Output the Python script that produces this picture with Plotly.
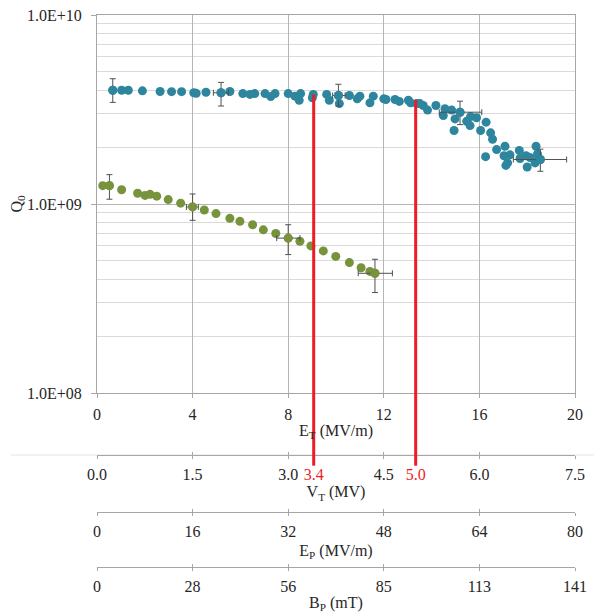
import plotly.graph_objects as go

# ---------------- data ----------------
et_ticks = [0, 4, 8, 12, 16, 20]
et_labels = ["0", "4", "8", "12", "16", "20"]
vt_labels = ["0.0", "1.5", "3.0", "4.5", "6.0", "7.5"]
ep_labels = ["0", "16", "32", "48", "64", "80"]
bp_labels = ["0", "28", "56", "85", "113", "141"]
et_max = 20.0
vt_max = 7.5

y_tick_vals = [1e8, 1e9, 1e10]
y_tick_text = ["1.0E+08", "1.0E+09", "1.0E+10"]

blue_et = [0.66, 1.03, 1.31, 1.90, 2.64, 3.12, 3.54, 4.05, 4.15, 4.56,
           5.19, 5.56, 6.10, 6.40, 6.60, 7.03, 7.27, 7.45, 8.00, 8.28,
           8.46, 8.52, 9.01, 9.05, 9.61, 9.72, 10.10, 10.14, 10.56, 10.89,
           11.00, 11.42, 11.56, 12.00, 12.09, 12.47, 12.65, 13.03, 13.12, 13.37,
           13.51, 13.65, 13.83, 14.18, 14.49, 14.56, 14.84, 14.98, 14.94, 15.19,
           15.47, 15.61, 15.63, 15.88, 16.05, 16.28, 16.47, 16.55, 16.26, 16.72,
           17.07, 17.03, 17.28, 17.11, 17.18, 17.67, 17.70, 17.95, 18.00, 18.12,
           18.37, 18.43, 18.33, 18.47, 18.55]
blue_q = [4.00, 4.00, 4.00, 3.97, 3.94, 3.93, 3.93, 3.88, 3.85, 3.90,
          3.88, 3.94, 3.84, 3.80, 3.84, 3.84, 3.70, 3.84, 3.84, 3.72,
          3.54, 3.84, 3.65, 3.80, 3.80, 3.54, 3.75, 3.40, 3.75, 3.60,
          3.72, 3.43, 3.72, 3.60, 3.57, 3.57, 3.49, 3.54, 3.43, 3.40,
          3.40, 3.32, 3.14, 3.32, 2.94, 3.19, 3.14, 2.82, 2.45, 3.06,
          2.74, 2.60, 2.90, 2.86, 2.45, 2.71, 2.38, 2.20, 1.78, 1.94,
          2.02, 1.80, 1.82, 1.60, 1.65, 1.92, 1.74, 1.80, 1.57, 1.76,
          2.02, 1.84, 1.65, 1.72, 1.72]  # x 1e9

green_et = [0.24, 0.52, 1.03, 1.70, 2.01, 2.22, 2.50, 2.98, 3.50, 4.00,
            4.49, 4.98, 5.56, 5.98, 6.51, 6.96, 7.48, 8.00, 8.49, 8.95,
            9.47, 9.99, 10.56, 11.05, 11.42, 11.63]
green_q = [1.25, 1.25, 1.19, 1.14, 1.11, 1.125, 1.10, 1.055, 1.01, 0.965,
           0.93, 0.89, 0.84, 0.81, 0.777, 0.73, 0.698, 0.66, 0.635, 0.60,
           0.565, 0.528, 0.49, 0.46, 0.44, 0.43]  # x 1e9

blue_err_et = [0.66, 5.19, 10.10, 15.19, 18.55]
blue_err_q = [4.00, 3.88, 3.75, 3.06, 1.72]
blue_err_qhi = [4.60, 4.40, 4.30, 3.50, 1.95]
blue_err_qlo = [3.45, 3.30, 3.30, 2.63, 1.49]
blue_err_etlo = [0.66, 4.87, 9.86, 14.32, 17.42]
blue_err_ethi = [0.66, 5.50, 10.38, 16.10, 19.65]

green_err_et = [0.52, 4.00, 8.00, 11.63]
green_err_q = [1.25, 0.965, 0.66, 0.43]
green_err_qhi = [1.43, 1.13, 0.777, 0.51]
green_err_qlo = [1.06, 0.82, 0.54, 0.34]
green_err_etlo = [0.52, 3.74, 7.52, 10.93]
green_err_ethi = [0.52, 4.24, 8.49, 12.36]

red_vt = [3.4, 5.0]
red_vt_labels = ["3.4", "5.0"]
red_q_top = [3.80, 3.55]  # x 1e9

# ---------------- styles ----------------
BLUE = "#2E869E"
GREEN = "#77933C"
RED = "#EE1C25"
ERR = "#505050"
FONT = '"Liberation Serif", "Times New Roman", "DejaVu Serif", serif'
TXT = "#262626"
AXC = "#A6A6A6"
GRID = "#B5B5B5"

G = 1e9
dom_bottom = 0.3636
pos_vt, pos_ep, pos_bp = 0.2593, 0.1633, 0.0707

fig = go.Figure()


def err_trace(xs, qs, qhi, qlo, xlo, xhi, color):
    return go.Scatter(
        x=xs, y=[q * G for q in qs], mode="markers",
        marker=dict(color=color, size=9),
        error_y=dict(type="data", symmetric=False,
                     array=[(h - q) * G for h, q in zip(qhi, qs)],
                     arrayminus=[(q - l) * G for l, q in zip(qlo, qs)],
                     color=ERR, thickness=1, width=3),
        error_x=dict(type="data", symmetric=False,
                     array=[h - x for h, x in zip(xhi, xs)],
                     arrayminus=[x - l for l, x in zip(xlo, xs)],
                     color=ERR, thickness=1, width=3),
        showlegend=False, hoverinfo="skip")


fig.add_trace(go.Scatter(x=blue_et, y=[q * G for q in blue_q], mode="markers",
                         marker=dict(color=BLUE, size=9), showlegend=False))
fig.add_trace(go.Scatter(x=green_et, y=[q * G for q in green_q], mode="markers",
                         marker=dict(color=GREEN, size=9), showlegend=False))
fig.add_trace(err_trace(blue_err_et, blue_err_q, blue_err_qhi, blue_err_qlo,
                        blue_err_etlo, blue_err_ethi, BLUE))
fig.add_trace(err_trace(green_err_et, green_err_q, green_err_qhi, green_err_qlo,
                        green_err_etlo, green_err_ethi, GREEN))

# red vertical markers (upper part inside the plot)
red_et = [v * et_max / vt_max for v in red_vt]
for xe, qt in zip(red_et, red_q_top):
    fig.add_trace(go.Scatter(x=[xe, xe], y=[qt * G, 1e8], mode="lines",
                             line=dict(color=RED, width=3),
                             showlegend=False, hoverinfo="skip"))
    fig.add_shape(type="line", xref="x", yref="paper", x0=xe, x1=xe,
                  y0=dom_bottom, y1=pos_vt - 0.018,
                  line=dict(color=RED, width=3), layer="above")

# faint separator line across the full width at the V_T axis
fig.add_shape(type="line", xref="paper", yref="paper", x0=-0.18, x1=1.08,
              y0=pos_vt, y1=pos_vt, line=dict(color="#E4E4E4", width=1),
              layer="below")

# dummy traces so the extra axes are drawn
for ax in ["x2", "x3", "x4", "x5", "x6", "x7"]:
    fig.add_trace(go.Scatter(x=[None], y=[None], xaxis=ax, yaxis="y",
                             showlegend=False, hoverinfo="skip"))

vt_vals = et_ticks + red_et
vt_text = vt_labels + ['<span style="color:%s">%s</span>' % (RED, t) for t in red_vt_labels]

base_font = dict(family=FONT, size=16, color=TXT)
minor_vals = [m * 10 ** e for e in (8, 9) for m in range(2, 10)]


def low_axis(pos, vals, text, title, standoff):
    return dict(anchor="free", overlaying="x", position=pos, range=[0, et_max],
                tickmode="array", tickvals=vals, ticktext=text,
                showgrid=False, zeroline=False, showline=True, linecolor=AXC,
                ticks="outside", ticklen=3, tickcolor=AXC, automargin=False,
                ticklabelstandoff=2, tickfont=base_font, ticklabeloverflow="allow",
                title=dict(text=title, font=base_font, standoff=standoff))


def inner_ticks(pos):
    # upper half of the crossing tick marks
    return dict(anchor="free", overlaying="x", position=pos, range=[0, et_max],
                tickmode="array", tickvals=et_ticks, showticklabels=False,
                showgrid=False, zeroline=False, showline=False,
                ticks="inside", ticklen=3, tickcolor=AXC, automargin=False)


fig.update_layout(
    width=602, height=614,
    margin=dict(l=89, r=35, t=7, b=13, autoexpand=False),
    paper_bgcolor="white", plot_bgcolor="white",
    font=base_font,
    xaxis=dict(domain=[0, 1], anchor="y", range=[0, et_max],
               tickmode="array", tickvals=et_ticks, ticktext=et_labels,
               showgrid=True, gridcolor=GRID, zeroline=False,
               showline=True, mirror=True, linecolor=AXC, ticks="outside", ticklen=4,
               tickcolor=AXC, ticklabelstandoff=3, tickfont=base_font,
               automargin=False, ticklabeloverflow="allow",
               title=dict(text="E<sub>T</sub> (MV/m)", font=base_font, standoff=2)),
    xaxis2=low_axis(pos_vt, vt_vals, vt_text, "V<sub>T</sub> (MV)", 3),
    xaxis3=low_axis(pos_ep, et_ticks, ep_labels, "E<sub>P</sub> (MV/m)", 5),
    xaxis4=low_axis(pos_bp, et_ticks, bp_labels, "B<sub>P</sub> (mT)", 2),
    xaxis5=inner_ticks(pos_vt),
    xaxis6=inner_ticks(pos_ep),
    xaxis7=inner_ticks(pos_bp),
    yaxis=dict(domain=[dom_bottom, 1], type="log", range=[8 - 1e-6, 10 + 1e-6],
               tickmode="array", tickvals=y_tick_vals, ticktext=y_tick_text,
               showgrid=True, gridcolor=GRID, zeroline=False,
               showline=True, mirror=True, linecolor=AXC, ticks="outside", ticklen=5,
               tickcolor=AXC, ticklabelstandoff=6, tickfont=base_font,
               automargin=False, ticklabeloverflow="allow",
               minor=dict(tickmode="array", tickvals=minor_vals, showgrid=True,
                          gridcolor="#DADADA", ticks=""),
               title=dict(text="Q<sub>0</sub>", font=base_font, standoff=4)),
)

fig.write_html("out.html")
